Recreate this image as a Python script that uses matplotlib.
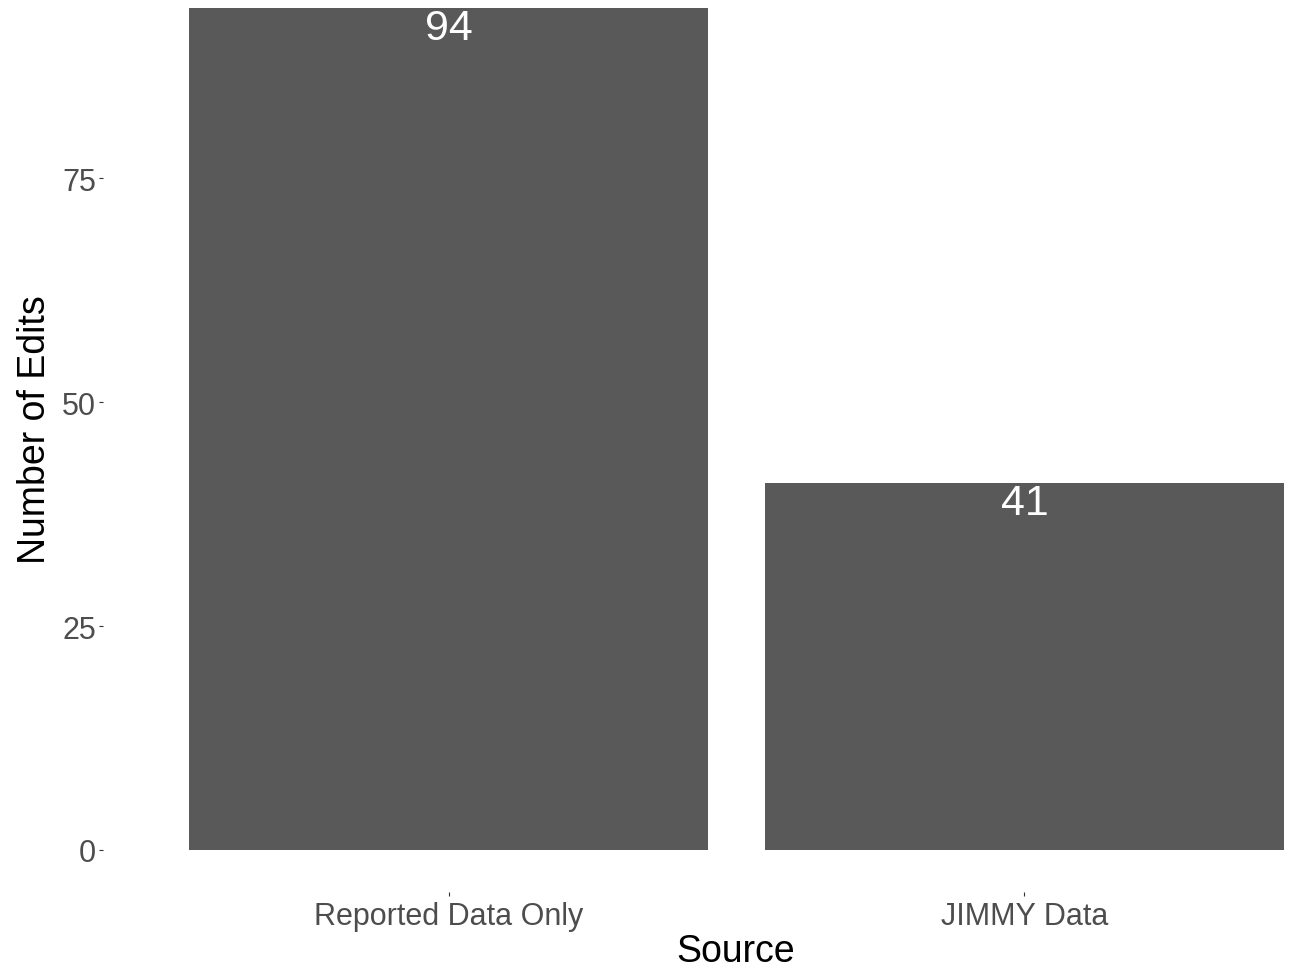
import matplotlib
matplotlib.use("Agg")
import matplotlib.pyplot as plt

categories = ["Reported Data Only", "JIMMY Data"]
edits = [94, 41]
y_ticks = [0, 25, 50, 75]

plt.rcParams['font.family'] = ['Liberation Sans', 'DejaVu Sans']

W, H = 1296, 970
fig = plt.figure(figsize=(W / 100, H / 100), dpi=100)
ax = fig.add_axes([105 / W, 1 - 851 / H, (W - 105) / W, 851 / H])

x = list(range(1, len(categories) + 1))
ax.bar(x, edits, width=0.9, color="#595959", zorder=2)
for xi, v in zip(x, edits):
    ax.annotate(str(v), (xi, v), xytext=(0, 0), textcoords="offset pixels",
                ha="center", va="top", color="white", fontsize=31)

ax.set_xlim(0.4036, 2.4714)
ax.set_ylim(0, 95)
ax.set_xticks(x)
ax.set_xticklabels(categories)
ax.set_yticks(y_ticks)

for s in ax.spines.values():
    s.set_visible(False)
ax.spines['bottom'].set_position(('outward', 30))
ax.spines['left'].set_position(('outward', 1.5))

ax.tick_params(axis='y', length=3, width=0.8, color="#333333", pad=2,
               labelsize=22, labelcolor="#4D4D4D")
ax.tick_params(axis='x', length=3, width=0.8, color="#333333", pad=4,
               labelsize=22, labelcolor="#4D4D4D")

ax.set_xlabel("Source", fontsize=27, color="black", labelpad=3)
ax.set_ylabel("Number of Edits", fontsize=27, color="black", labelpad=5)
ax.xaxis.set_label_coords((736 - 105) / 1191, -0.0)
ax.xaxis.label.set_va("center")
ax.xaxis.label.set_position(((736 - 105) / 1191, 0))
ax.xaxis.set_label_coords((736 - 105) / 1191, -(952 - 851) / 851)
ax.yaxis.set_label_coords(-(105 - 35) / 1191, 1 - 430 / 851)
ax.yaxis.label.set_va("center")

fig.savefig("out.png", dpi=100)
